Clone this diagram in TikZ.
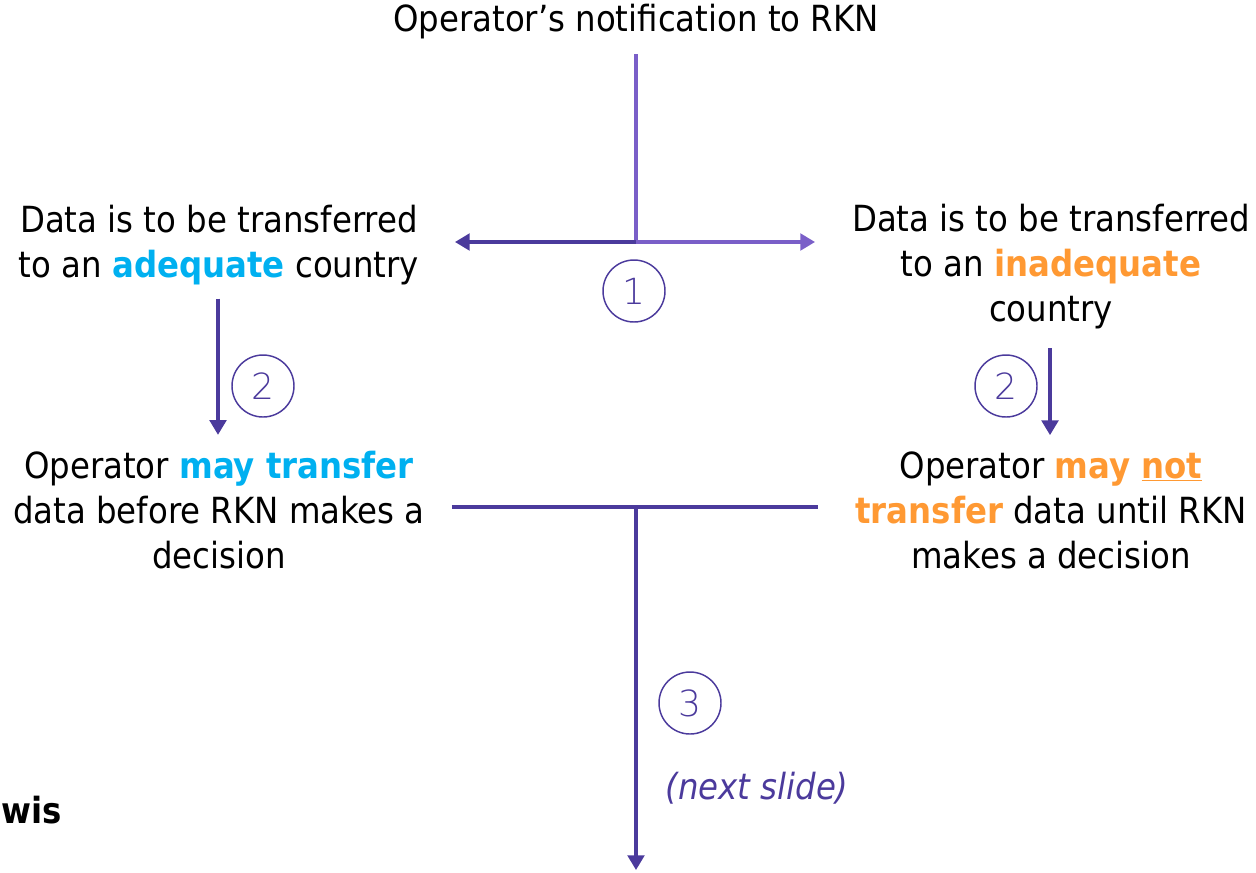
\documentclass[tikz,border=0pt]{standalone}
\usepackage{fontspec}
\setmainfont{DejaVu Sans Condensed}
\newfontfamily\numfont{DejaVu Sans ExtraLight}
\usetikzlibrary{arrows.meta}
\definecolor{opblue}{HTML}{00B0F0}
\definecolor{oporange}{HTML}{FF9933}
\definecolor{flowpurple}{HTML}{4B3A9C}
\definecolor{flowlilac}{HTML}{7A5FC8}

\begin{document}
\begin{tikzpicture}[
  x=0.75pt, y=-0.75pt,
  font=\fontsize{27}{33.75}\selectfont,
  statement/.style={align=center, inner sep=0pt},
  flow/.style={draw=flowpurple, line width=2.3pt},
  tip/.style={-{Triangle[length=11pt,width=12.5pt]}},
  stepnum/.style={circle, draw=flowpurple, line width=1.1pt, minimum size=46.5pt, inner sep=0pt,
    text=flowpurple, font=\numfont\fontsize{27}{27}\selectfont}
]
\useasboundingbox (0,0) rectangle (1256,872);

\node[statement] (title) at (636,22) {Operator’s notification to RKN};
\coordinate (split) at (636,242);
\coordinate (lefttip) at (455,242);
\coordinate (righttip) at (815,242);

\node[statement] (adq) at (219,245) {Data is to be transferred\\to an {\bfseries\color{opblue}adequate} country};
\node[statement] (inadq) at (1051,267) {Data is to be transferred\\to an {\bfseries\color{oporange}inadequate}\\country};
\node[statement] (may) at (219,510) {Operator {\bfseries\color{opblue}may transfer}\\data before RKN makes a\\decision};
\node[statement] (maynot) at (1051,510) {Operator {\bfseries\color{oporange}may \underline{not}}\\{\bfseries\color{oporange}transfer} data until RKN\\makes a decision};

% first split
\draw[flow, draw=flowlilac, shorten <=11pt] (title) -- (split);
\draw[flow, tip] (split) -- (lefttip);
\draw[flow, tip, color=flowlilac] (split) -- (righttip);
\node[stepnum] (s1) at (634,291) {1};

% second step on each side
\draw[flow, tip, shorten <=10pt, shorten >=12pt] (adq.south -| 218,0) -- (may.north -| 218,0);
\draw[flow, tip, shorten <=14pt, shorten >=12pt] (inadq.south -| 1050,0) -- (maynot.north -| 1050,0);
\node[stepnum] (s2l) at (263,386) {2};
\node[stepnum] (s2r) at (1006,386) {2};

% both outcomes lead on
\coordinate (merge) at (636,507);
\coordinate (nextend) at (636,870);
\draw[flow, shorten <=20pt, shorten >=28pt] (may.east |- merge) -- (maynot.west |- merge);
\draw[flow, tip] (merge) -- (nextend);
\node[stepnum] (s3) at (690,703) {3};
\node[text=flowpurple, font=\itshape\fontsize{27}{27}\selectfont] (next) at (757,788) {(next slide)};

\node[font=\bfseries\fontsize{27}{27}\selectfont, anchor=west, inner sep=0pt] (logo) at (1,810) {wis};
\end{tikzpicture}
\end{document}
